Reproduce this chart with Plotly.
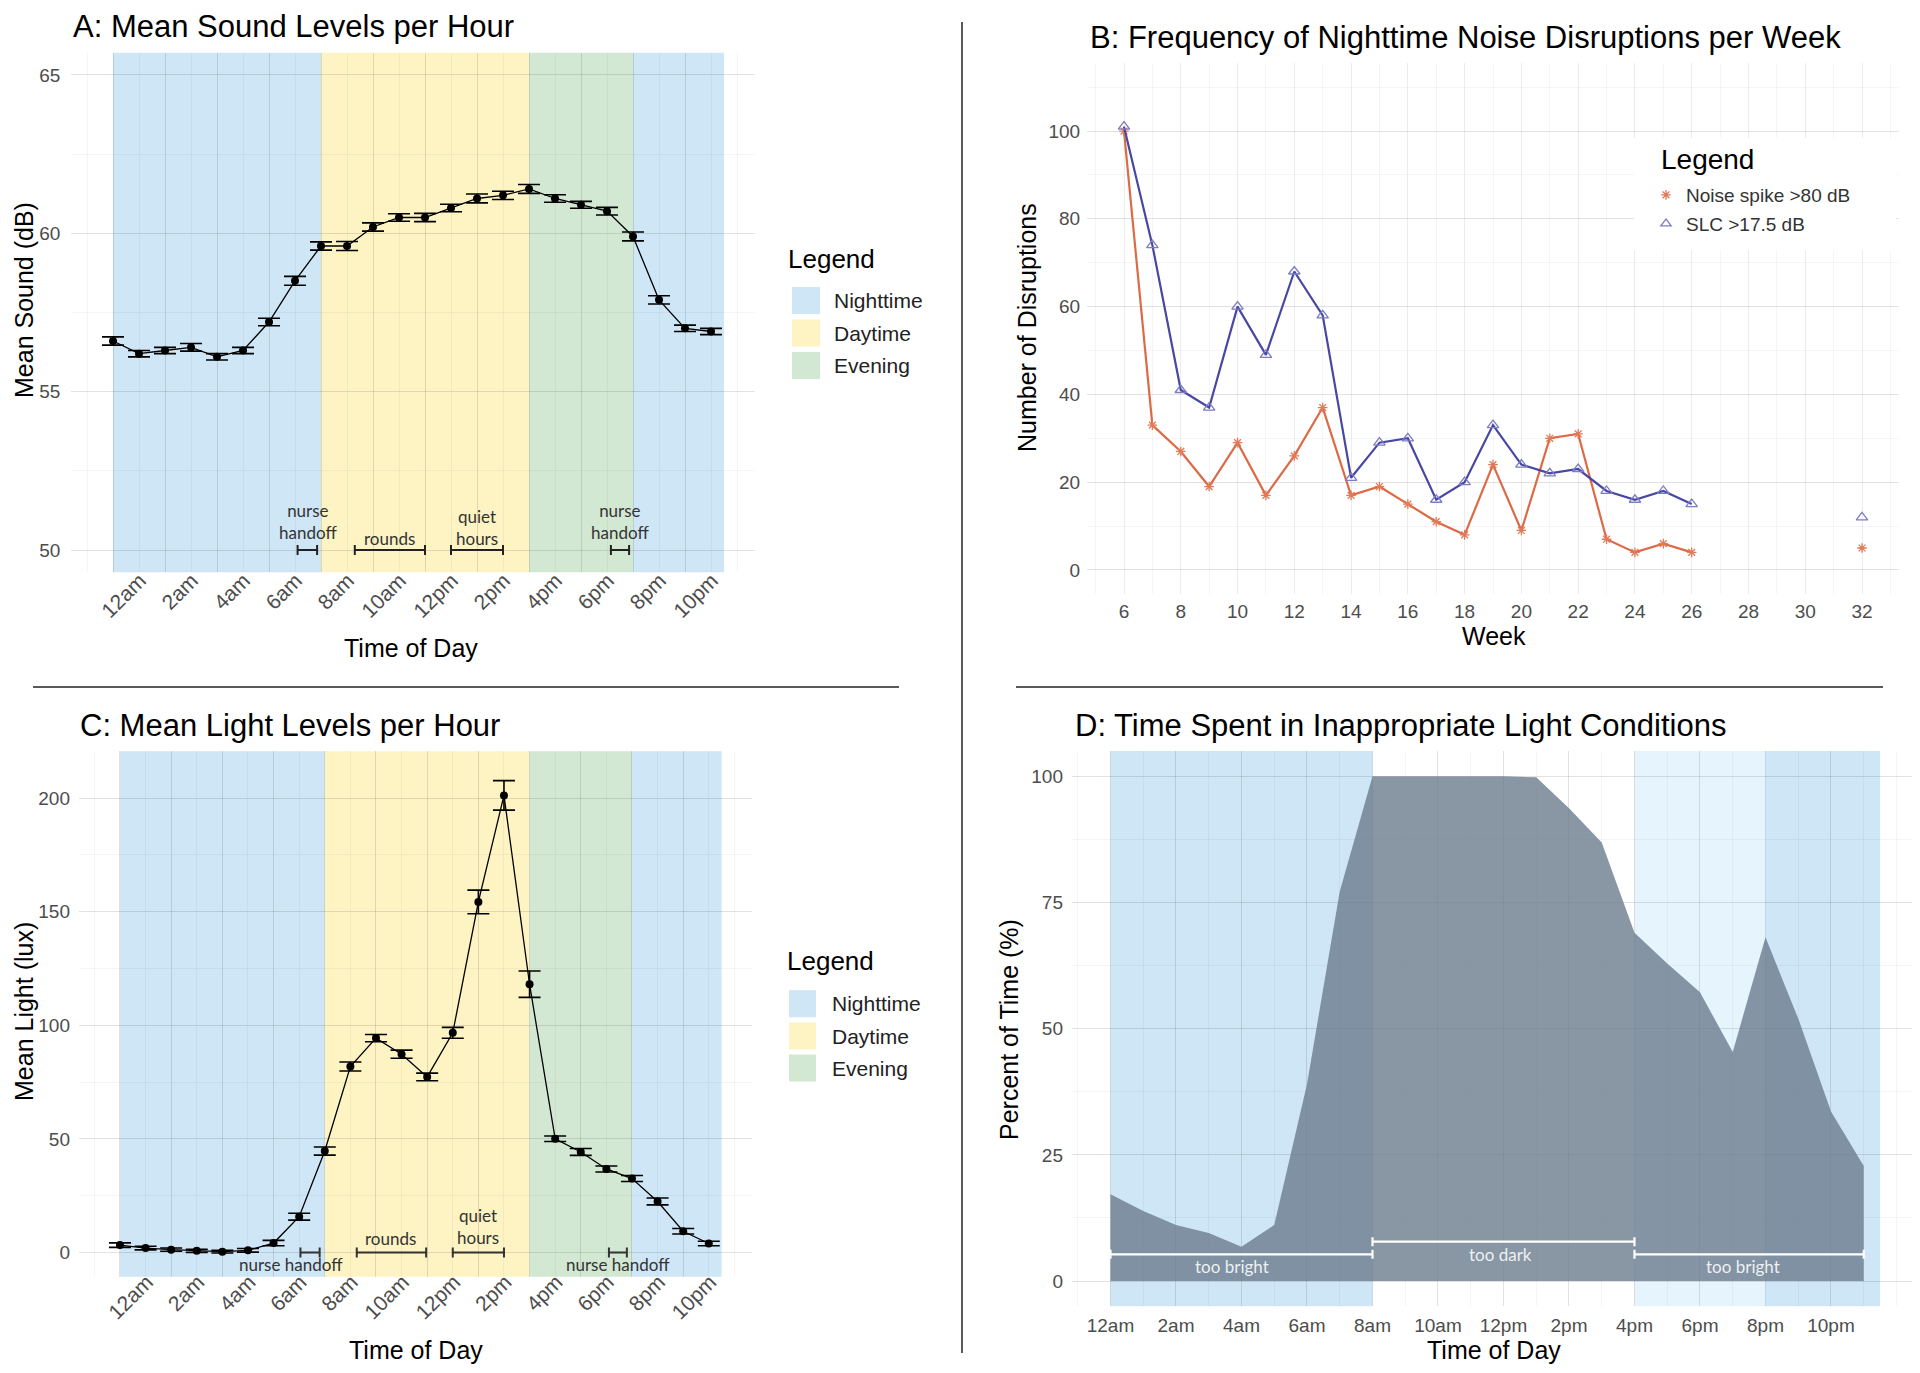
import plotly.graph_objects as go

# page offset (default body margin) compensation
OFF = 8
W, H = 1920 - OFF, 1373 - OFF

# ---------------- data ----------------
hours = list(range(24))
hour_ticks = [0, 2, 4, 6, 8, 10, 12, 14, 16, 18, 20, 22]
hour_labels = ['12am', '2am', '4am', '6am', '8am', '10am', '12pm', '2pm', '4pm', '6pm', '8pm', '10pm']

sound_mean = [56.6, 56.2, 56.3, 56.4, 56.1, 56.3, 57.2, 58.5, 59.6, 59.6, 60.2, 60.5,
              60.5, 60.8, 61.1, 61.2, 61.4, 61.1, 60.9, 60.7, 59.9, 57.9, 57.0, 56.9]
sound_err = [0.13, 0.10, 0.10, 0.12, 0.10, 0.10, 0.12, 0.14, 0.13, 0.14, 0.13, 0.12,
             0.13, 0.12, 0.14, 0.13, 0.14, 0.12, 0.11, 0.12, 0.14, 0.13, 0.10, 0.10]

light_mean = [3.3, 2.0, 1.3, 0.8, 0.4, 1.0, 4.2, 15.8, 44.7, 81.9, 94.4, 87.3,
              77.3, 96.7, 154.3, 201.2, 118.1, 50.1, 44.3, 36.8, 32.6, 22.5, 9.4, 4.0]
light_err = [1.0, 0.8, 0.7, 0.7, 0.6, 0.8, 1.2, 1.5, 1.8, 2.0, 1.6, 1.8,
             1.7, 2.4, 5.2, 6.5, 5.8, 1.2, 1.5, 1.3, 1.3, 1.5, 1.2, 1.0]

weeks = [6, 7, 8, 9, 10, 11, 12, 13, 14, 15, 16, 17, 18, 19, 20, 21, 22, 23, 24, 25, 26, 32]
noise_spike = [100, 33, 27, 19, 29, 17, 26, 37, 17, 19, 15, 11, 8, 24, 9, 30, 31, 7, 4, 6, 4, 5]
slc_events = [101, 74, 41, 37, 60, 49, 68, 58, 21, 29, 30, 16, 20, 33, 24, 22, 23, 18, 16, 18, 15, 12]

pct_inappropriate = [17.2, 13.9, 11.1, 9.5, 6.8, 11.1, 39.0, 77.2, 100, 100, 100, 100,
                     100, 99.8, 93.7, 86.9, 69.0, 62.9, 57.2, 45.4, 68.1, 52.0, 33.6, 22.8]

period_names = ['Nighttime', 'Daytime', 'Evening', 'Nighttime']
period_start = [0, 8, 16, 20]
period_end = [8, 16, 20, 23.5]

d_band_start = [0, 16, 20]
d_band_end = [8, 20, 23.5]

# schedule intervals (hours)
sched_A_start = [7.1, 9.3, 13.0, 19.15]
sched_A_end = [7.85, 12.0, 15.0, 19.85]
sched_C_start = [7.05, 9.25, 13.0, 19.1]
sched_C_end = [7.8, 11.96, 15.0, 19.8]

cond_labels = ['too bright', 'too dark', 'too bright']
cond_start = [0, 8, 16]
cond_end = [8, 16, 23]

# ---------------- style ----------------
NIGHT = '#CFE6F7'
DAY = '#FEF3C2'
EVE = '#D3E8D3'
D_EVE = '#E6F5FD'
PERIOD_COL = {'Nighttime': NIGHT, 'Daytime': DAY, 'Evening': EVE}
GRID = 'rgba(0,0,0,0.075)'
GRID_MINOR = 'rgba(0,0,0,0.04)'
FONT = 'Liberation Sans, Arial, sans-serif'
NOTE_FONT = 'Lato, Open Sans, sans-serif'
TICK = dict(family=FONT, size=19, color='#4D4D4D')
TICK_ROT = dict(family=FONT, size=21, color='#4D4D4D')


def px_x(p):
    return (p - OFF) / W


def px_y(p):
    return 1 - (p - OFF) / H


fig = go.Figure()

# ---------------- Panel A ----------------
fig.add_trace(go.Scatter(
    x=hours, y=sound_mean, mode='lines+markers', xaxis='x', yaxis='y',
    line=dict(color='black', width=1.3), marker=dict(color='black', size=8),
    error_y=dict(type='data', array=sound_err, color='black', thickness=1.6, width=11),
    showlegend=False))
for s, e in zip(sched_A_start, sched_A_end):
    fig.add_trace(go.Scatter(
        x=[(s + e) / 2], y=[50], mode='markers', xaxis='x', yaxis='y',
        marker=dict(size=1, color='rgba(0,0,0,0)'),
        error_x=dict(type='data', array=[(e - s) / 2], color='#222222', thickness=2, width=5),
        showlegend=False, hoverinfo='skip'))

# ---------------- Panel B ----------------
def gap(vals):
    return vals[:-1] + [None] + vals[-1:]


ORANGE_LINE = '#DC6A47'
ORANGE_MK = '#E07A58'
BLUE_LINE = '#4848A2'
BLUE_MK = '#7C7CC2'

fig.add_trace(go.Scatter(
    x=gap(weeks), y=gap(noise_spike), mode='lines+markers', xaxis='x2', yaxis='y2',
    line=dict(color=ORANGE_LINE, width=2.2),
    marker=dict(symbol='asterisk-open', size=8, color=ORANGE_MK, line=dict(width=1.3, color=ORANGE_MK)),
    showlegend=False))
fig.add_trace(go.Scatter(
    x=gap(weeks), y=gap(slc_events), mode='lines+markers', xaxis='x2', yaxis='y2',
    line=dict(color=BLUE_LINE, width=2.2),
    marker=dict(symbol='triangle-up-open', size=10, color=BLUE_MK, line=dict(width=1.3, color=BLUE_MK)),
    showlegend=False))
fig.add_trace(go.Scatter(
    x=[None], y=[None], mode='markers', xaxis='x2', yaxis='y2', name='Noise spike >80 dB',
    legendgroup='spike',
    marker=dict(symbol='asterisk-open', size=8, color=ORANGE_MK, line=dict(width=1.3, color=ORANGE_MK))))
fig.add_trace(go.Scatter(
    x=[None], y=[None], mode='markers', xaxis='x2', yaxis='y2', name='SLC >17.5 dB',
    legendgroup='slc',
    marker=dict(symbol='triangle-up-open', size=9, color=BLUE_MK, line=dict(width=1.3, color=BLUE_MK))))

# ---------------- Panel C ----------------
fig.add_trace(go.Scatter(
    x=hours, y=light_mean, mode='lines+markers', xaxis='x3', yaxis='y3',
    line=dict(color='black', width=1.3), marker=dict(color='black', size=8),
    error_y=dict(type='data', array=light_err, color='black', thickness=1.6, width=11),
    showlegend=False))
for s, e in zip(sched_C_start, sched_C_end):
    fig.add_trace(go.Scatter(
        x=[(s + e) / 2], y=[0], mode='markers', xaxis='x3', yaxis='y3',
        marker=dict(size=1, color='rgba(0,0,0,0)'),
        error_x=dict(type='data', array=[(e - s) / 2], color='#333333', thickness=2, width=5),
        showlegend=False, hoverinfo='skip'))

# ---------------- Panel D ----------------
fig.add_trace(go.Scatter(
    x=hours, y=pct_inappropriate, mode='lines', xaxis='x4', yaxis='y4',
    fill='tozeroy', fillcolor='rgba(104,120,139,0.78)', line=dict(width=0, color='rgba(0,0,0,0)'),
    showlegend=False))
cond_y = [5.3, 7.8, 5.3]
for s, e, yv in zip(cond_start, cond_end, cond_y):
    fig.add_trace(go.Scatter(
        x=[(s + e) / 2], y=[yv], mode='markers', xaxis='x4', yaxis='y4',
        marker=dict(size=1, color='rgba(0,0,0,0)'),
        error_x=dict(type='data', array=[(e - s) / 2], color='white', thickness=2.2, width=4.5),
        showlegend=False, hoverinfo='skip'))

# ---------------- shapes ----------------
shapes = []
for name, s, e in zip(period_names, period_start, period_end):
    for xr, yr in (('x', 'y'), ('x3', 'y3')):
        shapes.append(dict(type='rect', xref=xr, yref=yr + ' domain', x0=s, x1=e, y0=0, y1=1,
                           fillcolor=PERIOD_COL[name], line=dict(width=0), layer='below'))
for s, e, c in zip(d_band_start, d_band_end, [NIGHT, D_EVE, NIGHT]):
    shapes.append(dict(type='rect', xref='x4', yref='y4 domain', x0=s, x1=e, y0=0, y1=1,
                       fillcolor=c, line=dict(width=0), layer='below'))

# separators
shapes.append(dict(type='line', xref='paper', yref='paper', x0=px_x(962), x1=px_x(962),
                   y0=px_y(22), y1=px_y(1353), line=dict(color='#222', width=1.5)))
shapes.append(dict(type='line', xref='paper', yref='paper', x0=px_x(33), x1=px_x(899),
                   y0=px_y(687), y1=px_y(687), line=dict(color='#222', width=1.5)))
shapes.append(dict(type='line', xref='paper', yref='paper', x0=px_x(1016), x1=px_x(1883),
                   y0=px_y(687), y1=px_y(687), line=dict(color='#222', width=1.5)))

# white box behind panel B legend
shapes.append(dict(type='rect', xref='paper', yref='paper', x0=px_x(1634), x1=px_x(1896),
                   y0=px_y(250), y1=px_y(138), fillcolor='white', line=dict(width=0), layer='above'))

# manual legends for A and C
annotations = []
legend_cols = [NIGHT, DAY, EVE]
legend_names = ['Nighttime', 'Daytime', 'Evening']
for title_xy, sw_x, centers, txt_x in (
        ((786, 259), (792, 820), (300.5, 333, 365.5), 832),
        ((785, 961), (789, 816), (1003.7, 1036, 1068), 830)):
    annotations.append(dict(text='Legend', x=px_x(title_xy[0]), y=px_y(title_xy[1]), xref='paper', yref='paper',
                            xanchor='left', yanchor='middle', showarrow=False,
                            font=dict(family=FONT, size=26, color='black')))
    for col, nm, cy in zip(legend_cols, legend_names, centers):
        shapes.append(dict(type='rect', xref='paper', yref='paper', x0=px_x(sw_x[0]), x1=px_x(sw_x[1]),
                           y0=px_y(cy + 13.5), y1=px_y(cy - 13.5), fillcolor=col, line=dict(width=0)))
        annotations.append(dict(text=nm, x=px_x(txt_x), y=px_y(cy), xref='paper', yref='paper',
                                xanchor='left', yanchor='middle', showarrow=False,
                                font=dict(family=FONT, size=21, color='#222')))

# panel B legend title
annotations.append(dict(text='Legend', x=px_x(1659), y=px_y(159), xref='paper', yref='paper',
                        xanchor='left', yanchor='middle', showarrow=False,
                        font=dict(family=FONT, size=28, color='black')))

# titles
for txt, x, y in (('A: Mean Sound Levels per Hour', 71, 27),
                  ('B: Frequency of Nighttime Noise Disruptions per Week', 1088, 37),
                  ('C: Mean Light Levels per Hour', 78, 725),
                  ('D: Time Spent in Inappropriate Light Conditions', 1073, 725)):
    annotations.append(dict(text=txt, x=px_x(x), y=px_y(y), xref='paper', yref='paper',
                            xanchor='left', yanchor='middle', showarrow=False,
                            font=dict(family=FONT, size=31, color='black')))

# axis titles
for txt, x, y, ang in (('Time of Day', 411, 648, 0), ('Mean Sound (dB)', 24, 300, -90),
                       ('Week', 1494, 636, 0), ('Number of Disruptions', 1027, 328, -90),
                       ('Time of Day', 416, 1350, 0), ('Mean Light (lux)', 24, 1012, -90),
                       ('Time of Day', 1494, 1350, 0), ('Percent of Time (%)', 1009, 1030, -90)):
    annotations.append(dict(text=txt, x=px_x(x), y=px_y(y), xref='paper', yref='paper',
                            xanchor='center', yanchor='middle', showarrow=False, textangle=ang,
                            font=dict(family=FONT, size=25, color='black')))

# schedule notes
NOTE = dict(family=NOTE_FONT, size=17, color='#333333')
for txt, x, y in (('nurse<br>handoff', 7.5, 50.9), ('rounds', 10.65, 50.38),
                  ('quiet<br>hours', 14.0, 50.72), ('nurse<br>handoff', 19.5, 50.9)):
    annotations.append(dict(text=txt, x=x, y=y, xref='x', yref='y', showarrow=False,
                            xanchor='center', yanchor='middle', font=NOTE))
for txt, x, y in (('nurse handoff', 6.7, -5.4), ('rounds', 10.55, 6.2),
                  ('quiet<br>hours', 14.0, 11.5), ('nurse handoff', 19.45, -5.4)):
    annotations.append(dict(text=txt, x=x, y=y, xref='x3', yref='y3', showarrow=False,
                            xanchor='center', yanchor='middle', font=NOTE))
for txt, x, y in zip(cond_labels, [3.7, 11.9, 19.3], [2.9, 5.2, 2.9]):
    annotations.append(dict(text=txt, x=x, y=y, xref='x4', yref='y4', showarrow=False,
                            xanchor='center', yanchor='middle',
                            font=dict(family=NOTE_FONT, size=17, color='rgba(255,255,255,0.88)')))


def axis_common(**kw):
    d = dict(showgrid=True, gridcolor=GRID, gridwidth=1, zeroline=False, showline=False,
             ticks='', tickfont=TICK, fixedrange=True)
    d.update(kw)
    return d


fig.update_layout(
    width=W, height=H, autosize=False,
    margin=dict(l=0, r=0, t=0, b=0),
    paper_bgcolor='white', plot_bgcolor='rgba(0,0,0,0)',
    shapes=shapes, annotations=annotations,
    xaxis=axis_common(domain=[px_x(71.4), px_x(755.2)], range=[-1.6, 24.7], anchor='y',
                      tickmode='array', tickvals=hour_ticks, ticktext=hour_labels, tickangle=-45,
                      tickfont=TICK_ROT, ticklabelshift=27, ticklabelstandoff=-9,
                      minor=dict(tickmode='linear', tick0=0, dtick=1, showgrid=True, gridcolor=GRID_MINOR)),
    yaxis=axis_common(domain=[px_y(572.2), px_y(52.8)], range=[49.3, 65.7], anchor='x',
                      tickmode='array', tickvals=[50, 55, 60, 65], ticklabelstandoff=10,
                      minor=dict(tickmode='linear', tick0=50, dtick=2.5, showgrid=True, gridcolor=GRID_MINOR)),
    xaxis2=axis_common(domain=[px_x(1087.1), px_x(1898.9)], range=[4.7, 33.3], anchor='y2',
                       tickmode='linear', tick0=6, dtick=2, ticklabelstandoff=4,
                       minor=dict(tickmode='linear', tick0=5, dtick=1, showgrid=True, gridcolor=GRID_MINOR)),
    yaxis2=axis_common(domain=[px_y(594.1), px_y(63)], range=[-5.5, 115.5], anchor='x2',
                       tickmode='array', tickvals=[0, 20, 40, 60, 80, 100], ticklabelstandoff=6,
                       minor=dict(tickmode='linear', tick0=0, dtick=10, showgrid=True, gridcolor=GRID_MINOR)),
    xaxis3=axis_common(domain=[px_x(79.0), px_x(752.3)], range=[-1.6, 24.7], anchor='y3',
                       tickmode='array', tickvals=hour_ticks, ticktext=hour_labels, tickangle=-45,
                       tickfont=TICK_ROT, ticklabelshift=27, ticklabelstandoff=-12,
                       minor=dict(tickmode='linear', tick0=0, dtick=1, showgrid=True, gridcolor=GRID_MINOR)),
    yaxis3=axis_common(domain=[px_y(1276.7), px_y(751.3)], range=[-10.6, 220.6], anchor='x3',
                       tickmode='array', tickvals=[0, 50, 100, 150, 200], ticklabelstandoff=8,
                       minor=dict(tickmode='linear', tick0=0, dtick=25, showgrid=True, gridcolor=GRID_MINOR)),
    xaxis4=axis_common(domain=[px_x(1072), px_x(1918.6)], range=[-1.175, 24.675], anchor='y4',
                       tickmode='array', tickvals=hour_ticks, ticktext=hour_labels, ticklabelstandoff=6,
                       minor=dict(tickmode='linear', tick0=0, dtick=1, showgrid=True, gridcolor=GRID_MINOR)),
    yaxis4=axis_common(domain=[px_y(1306.3), px_y(751.1)], range=[-5, 105], anchor='x4',
                       tickmode='array', tickvals=[0, 25, 50, 75, 100], ticklabelstandoff=8,
                       minor=dict(tickmode='linear', tick0=0, dtick=12.5, showgrid=True, gridcolor=GRID_MINOR)),
    legend=dict(x=px_x(1646), y=px_y(176), xanchor='left', yanchor='top',
                bgcolor='rgba(255,255,255,0)', borderwidth=0,
                font=dict(family=FONT, size=19, color='#333333'),
                itemsizing='trace', tracegroupgap=1),
)

fig.write_html('out.html')
